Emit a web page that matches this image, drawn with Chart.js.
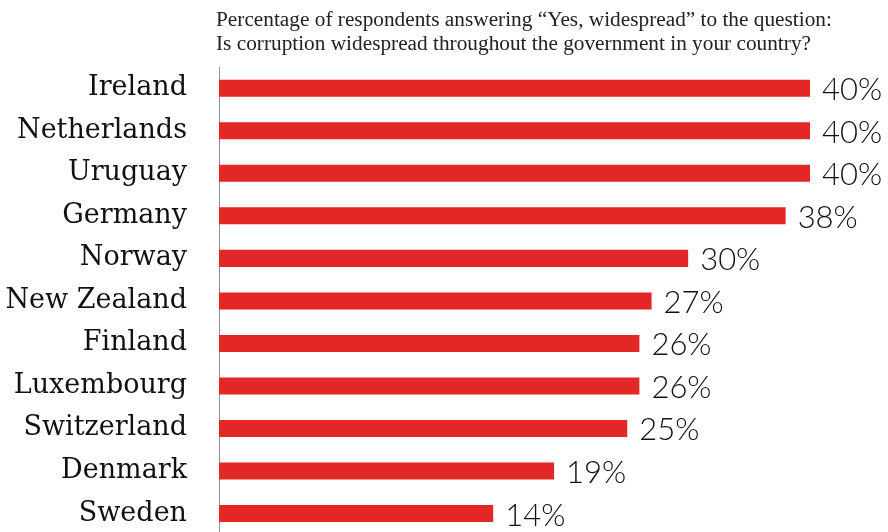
<!DOCTYPE html>
<html>
<head>
<meta charset="utf-8">
<script src="https://cdn.jsdelivr.net/npm/chart.js@4"></script>
<style>
  html, body { margin: 0; padding: 0; background: #fff; overflow: hidden; }
  /* taller than the window: the tick label padding reserved below the last row falls off-screen */
  #wrap { position: relative; width: 888px; height: 583px; }
</style>
</head>
<body>
<div id="wrap"><canvas id="corruption-chart"></canvas></div>
<script>
// Share of respondents answering "Yes, widespread", by country
const countries = ['Ireland', 'Netherlands', 'Uruguay', 'Germany', 'Norway', 'New Zealand',
  'Finland', 'Luxembourg', 'Switzerland', 'Denmark', 'Sweden'];
const shares = [40, 40, 40, 38, 30, 27, 26, 26, 25, 19, 14];
const titleLines = [
  'Percentage of respondents answering \u201cYes, widespread\u201d to the question:',
  'Is corruption widespread throughout the government in your country?'
];

// value axis does not start at zero; bars grow from the left edge
const AXIS_MIN = -8.5;
const AXIS_MAX = 46.4;

// two-line question above the bars
const questionText = {
  id: 'questionText',
  afterDraw(chart) {
    const c = chart.ctx;
    c.save();
    c.font = '21.3px "Liberation Serif"';
    c.fillStyle = '#222';
    c.textBaseline = 'alphabetic';
    titleLines.forEach((line, i) => c.fillText(line, 216, 26 + i * 24));
    c.restore();
  }
};

// percentage printed past the end of each bar
const valueLabels = {
  id: 'valueLabels',
  afterDatasetsDraw(chart) {
    const c = chart.ctx;
    c.save();
    c.font = '300 31px Lato';
    c.fillStyle = '#111';
    c.textBaseline = 'middle';
    chart.getDatasetMeta(0).data.forEach((bar, i) => {
      c.fillText(shares[i] + '%', bar.x + 12, bar.y + 2);
    });
    c.restore();
  }
};

new Chart(document.getElementById('corruption-chart'), {
  type: 'bar',
  data: {
    labels: countries,
    datasets: [{
      data: shares,
      base: AXIS_MIN,
      backgroundColor: '#e32626',
      categoryPercentage: 1,
      barPercentage: 0.4
    }]
  },
  options: {
    indexAxis: 'y',
    responsive: true,
    maintainAspectRatio: false,
    animation: false,
    devicePixelRatio: 1,
    layout: { padding: { top: 67, left: 0, right: 0, bottom: 0 } },
    plugins: { legend: { display: false }, tooltip: { enabled: false } },
    scales: {
      x: { display: false, min: AXIS_MIN, max: AXIS_MAX },
      y: {
        afterFit(scale) { scale.width = 219; },
        grid: { display: false, drawTicks: false },
        border: { display: true, color: '#8f8f8f', width: 1 },
        ticks: {
          padding: 32,
          color: '#111',
          font: { family: '"DejaVu Serif"', size: 27 }
        }
      }
    }
  },
  plugins: [questionText, valueLabels]
});
</script>
</body>
</html>
